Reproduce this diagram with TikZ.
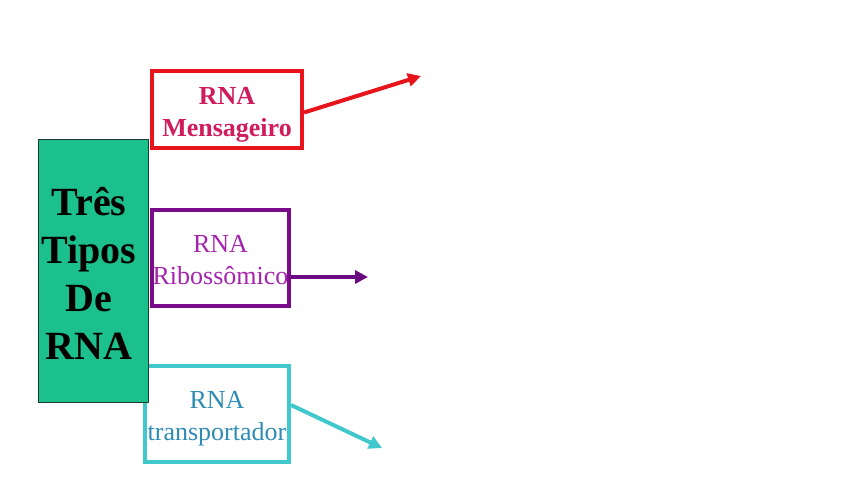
\documentclass[tikz,border=0pt]{standalone}
\usepackage{fontspec}
\setmainfont{Liberation Serif}
\usetikzlibrary{arrows.meta}
\definecolor{boxgreen}{HTML}{1CC08C}
\definecolor{greenedge}{HTML}{1A3A30}
\definecolor{redbox}{HTML}{E8141C}
\definecolor{redtext}{HTML}{D01C5C}
\definecolor{purbox}{HTML}{7A0C8A}
\definecolor{purtext}{HTML}{A424AC}
\definecolor{purarrow}{HTML}{6A0A80}
\definecolor{cyanbox}{HTML}{40C8CC}
\definecolor{cyantext}{HTML}{2E8CB4}
\tikzset{
  typebox/.style={draw, line width=4pt, inner sep=0pt, align=center, font=\fontsize{26}{32}\selectfont},
  arr/.style={line width=4pt, -{Triangle[length=13pt,width=13pt]}}
}
\begin{document}
\begin{tikzpicture}[x=1pt,y=-1pt]
\useasboundingbox (0,0) rectangle (841,501);
\node[typebox, draw=redbox, minimum width=150pt, minimum height=77pt] (red) at (227,109.5) {};
\node[text=redtext, align=center, inner sep=0pt, font=\fontsize{26}{32}\selectfont\bfseries] (redtxt) at (227,114.5) {RNA\\Mensageiro};
\node[typebox, draw=purbox, text=purtext, minimum width=137pt, minimum height=96pt] (pur) at (220.5,258) {};
\node[text=purtext, align=center, inner sep=0pt, font=\fontsize{26}{32}\selectfont] (purtxt) at (220.5,260) {RNA\\Ribossômico};
\node[typebox, draw=cyanbox, minimum width=144pt, minimum height=96pt] (cyan) at (217,414) {};
\node[text=cyantext, align=center, inner sep=0pt, font=\fontsize{26}{32}\selectfont] (cyantxt) at (217,419) {RNA\\transportador};
\node[draw=greenedge, fill=boxgreen, line width=1pt, minimum width=110pt, minimum height=263pt, inner sep=0pt] (green) at (93,270.5) {};
\node[align=center, inner sep=0pt, font=\fontsize{40}{48}\selectfont\bfseries] (greentxt) at (89,273) {Três\\Tipos\\De\\RNA};
\coordinate (redend) at (421,76);
\coordinate (purend) at (368,277);
\coordinate (cyanend) at (382,448);
\draw[arr, draw=redbox, fill=redbox] ([yshift=-3pt]red.east) -- (redend);
\draw[arr, draw=purarrow, fill=purarrow] (pur.east |- purend) -- (purend);
\draw[arr, draw=cyanbox, fill=cyanbox] ([yshift=9pt]cyan.east) -- (cyanend);
\end{tikzpicture}
\end{document}
